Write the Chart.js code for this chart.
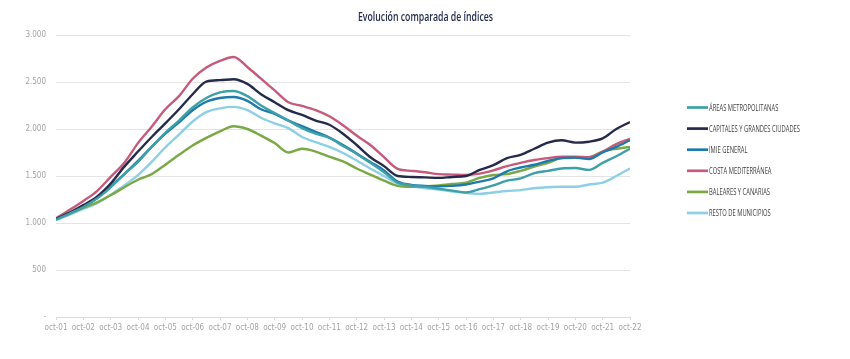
<!DOCTYPE html>
<html>
<head>
<meta charset="utf-8">
<script src="https://cdn.jsdelivr.net/npm/chart.js@4.4.1/dist/chart.umd.min.js"></script>
<style>
html,body{margin:0;padding:0;background:#fff;}
#wrap{width:850px;height:359px;position:relative;}
</style>
</head>
<body>
<div id="wrap"><canvas id="c" width="850" height="359"></canvas></div>
<script>
// ---- Data ----
const chartTitle = 'Evolución comparada de índices';
const yearLabels = ['oct-01','oct-02','oct-03','oct-04','oct-05','oct-06','oct-07','oct-08','oct-09','oct-10','oct-11',
  'oct-12','oct-13','oct-14','oct-15','oct-16','oct-17','oct-18','oct-19','oct-20','oct-21','oct-22'];
// sample positions: months since oct-01
const sampleMonths = [0,6,12,18,24,30,36,42,48,54,60,66,72,78,84,90,96,102,108,114,120,126,132,138,144,150,
  156,162,168,174,180,186,192,198,204,210,216,222,228,234,240,246,252];
const seriesNames = ['ÁREAS METROPOLITANAS','CAPITALES Y GRANDES CIUDADES','IMIE GENERAL','COSTA MEDITERRÁNEA',
  'BALEARES Y CANARIAS','RESTO DE MUNICIPIOS'];
const areasMetropolitanas = [1035,1100,1170,1260,1380,1520,1650,1810,1960,2090,2230,2330,2390,2405,2350,2250,2170,2090,
  2010,1950,1905,1820,1735,1640,1540,1430,1400,1385,1365,1345,1325,1360,1400,1450,1475,1530,1555,1580,1585,1565,1640,1710,1790];
const capitalesGrandesCiudades = [1045,1110,1190,1280,1420,1600,1760,1915,2060,2210,2370,2505,2520,2530,2480,2370,2285,
  2200,2150,2090,2045,1950,1830,1700,1605,1500,1490,1485,1480,1490,1500,1565,1615,1690,1725,1790,1855,1880,1855,1865,1900,2000,2075];
const imieGeneral = [1040,1105,1175,1265,1390,1520,1660,1810,1950,2070,2200,2290,2330,2340,2300,2210,2160,2090,2030,
  1970,1910,1830,1740,1650,1560,1440,1405,1395,1390,1395,1410,1440,1475,1550,1590,1620,1660,1690,1695,1680,1750,1810,1880];
const costaMediterranea = [1050,1140,1235,1340,1490,1640,1850,2025,2210,2350,2535,2655,2725,2766,2660,2535,2410,2285,
  2245,2200,2135,2040,1930,1830,1700,1575,1555,1540,1520,1515,1510,1525,1560,1605,1640,1670,1690,1705,1705,1700,1760,1840,1895];
const balearesCanarias = [1040,1100,1160,1220,1295,1380,1460,1520,1620,1725,1825,1905,1975,2030,2000,1930,1850,1750,
  1790,1760,1705,1655,1580,1515,1450,1395,1385,1390,1400,1415,1430,1480,1510,1520,1555,1600,1640,1690,1695,1700,1760,1790,1810];
const restoMunicipios = [1030,1090,1150,1210,1300,1400,1510,1650,1805,1940,2080,2180,2220,2235,2200,2120,2060,2010,
  1915,1860,1810,1745,1665,1580,1500,1420,1390,1370,1355,1335,1320,1310,1325,1340,1350,1370,1380,1385,1385,1410,1430,1500,1580];
const seriesValues = [areasMetropolitanas, capitalesGrandesCiudades, imieGeneral, costaMediterranea, balearesCanarias, restoMunicipios];

// ---- Styles ----
const seriesColors = ['#3d9fa8','#252a4b','#1d7aaa','#c65a7a','#79a844','#8dcfe4'];
const tickFont = {family:"'DejaVu Sans Condensed','Liberation Sans Narrow','DejaVu Sans',sans-serif", size:8};

const datasets = seriesNames.map((name, i) => ({
  label: name,
  data: sampleMonths.map((m, j) => ({x: m / 12, y: seriesValues[i][j]})),
  borderColor: seriesColors[i],
  backgroundColor: seriesColors[i],
  borderWidth: 2.4,
  pointRadius: 0,
  cubicInterpolationMode: 'monotone',
  fill: false
}));

function fmtThousands(v){
  return String(v).replace(/\B(?=(\d{3})+(?!\d))/g, '.');
}

const textPlugin = {
  id: 'texts',
  afterDraw(chart){
    const ctx = chart.ctx;
    // title
    ctx.save();
    ctx.font = "600 12px 'Open Sans'";
    const tw = ctx.measureText(chartTitle).width;
    ctx.translate(425.5, 20.5);
    ctx.scale(135 / tw, 1);
    ctx.fillStyle = '#232c4c';
    ctx.textAlign = 'center';
    ctx.textBaseline = 'alphabetic';
    ctx.fillText(chartTitle, 0, 0);
    ctx.restore();
    // legend
    ctx.save();
    ctx.font = "9.5px 'Open Sans'";
    const ref = ctx.measureText(seriesNames[1]).width;
    const sx = 91 / ref;
    chart.data.datasets.forEach((ds, i) => {
      const y = 107.5 + i * 21.1;
      ctx.strokeStyle = ds.borderColor;
      ctx.lineWidth = 2.7;
      ctx.beginPath();
      ctx.moveTo(687, y);
      ctx.lineTo(708, y);
      ctx.stroke();
      ctx.save();
      ctx.translate(709, y + 3.4);
      ctx.scale(sx, 1);
      ctx.fillStyle = '#3f3f3f';
      ctx.textBaseline = 'alphabetic';
      ctx.textAlign = 'left';
      ctx.fillText(ds.label, 0, 0);
      ctx.restore();
    });
    ctx.restore();
  }
};

new Chart(document.getElementById('c'), {
  type: 'line',
  data: {datasets},
  plugins: [textPlugin],
  options: {
    responsive: false,
    devicePixelRatio: 1,
    animation: false,
    layout: {padding: {left: 0, right: 220, top: 35, bottom: 0}},
    plugins: {legend: {display: false}, title: {display: false}, tooltip: {enabled: false}},
    scales: {
      x: {
        type: 'linear', min: 0, max: 21,
        afterFit: s => { s.height = 42; },
        afterBuildTicks: s => { s.ticks = yearLabels.map((_, i) => ({value: i})); },
        ticks: {autoSkip: false, maxRotation: 0, padding: 3, color: '#a3a3a3', font: tickFont,
          callback: v => yearLabels[Math.round(v)] ?? ''},
        grid: {drawOnChartArea: false, drawTicks: true, tickLength: 3, color: '#dcdcdc'},
        border: {color: '#dcdcdc'}
      },
      y: {
        min: 0, max: 3000,
        afterFit: s => { s.width = 56; },
        ticks: {stepSize: 500, padding: 10, color: '#a3a3a3', font: tickFont,
          callback: v => v === 0 ? '-' : fmtThousands(v)},
        grid: {color: '#e4e4e4', drawTicks: false},
        border: {display: false}
      }
    }
  }
});
</script>
</body>
</html>
